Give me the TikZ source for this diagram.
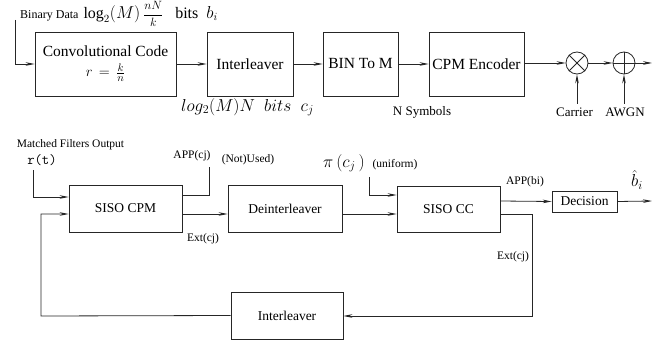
\documentclass[tikz,border=0pt]{standalone}
\usepackage{fontspec}
\setmainfont{Liberation Serif}
\newfontfamily\labelserif{Liberation Serif}
\usetikzlibrary{arrows.meta}
\begin{document}
\begin{tikzpicture}[x=1pt,y=-1pt,
  wire/.style={line width=0.8pt,draw=black!85},
  arr/.style={wire,-{Stealth[length=9pt,width=3.6pt]}},
  blk/.style={draw=black!85,line width=0.8pt,inner sep=0pt,align=center},
  topblk/.style={blk,minimum height=64pt,font=\labelserif\fontsize{15.5}{18}\selectfont},
  lowblk/.style={blk,minimum height=47pt,font=\labelserif\fontsize{13.5}{16}\selectfont},
  sm/.style={inner sep=0pt,font=\labelserif\fontsize{11.5}{13}\selectfont},
  md/.style={inner sep=0pt,font=\labelserif\fontsize{13}{15}\selectfont},
  mth/.style={inner sep=0pt,font=\fontsize{17}{20}\selectfont},
  mx/.style={draw=black!85,line width=0.8pt,circle,minimum size=22pt,inner sep=0pt}]
\useasboundingbox (0,0) rectangle (662,342);

% ---------------- transmitter chain ----------------
\node[topblk,minimum width=141pt] (conv) at (105.5,64)
  {Convolutional Code\\[2pt] {\fontsize{15}{18}\selectfont$r\,=\,\frac{k}{n}$}};
\node[topblk,minimum width=86pt] (il1) at (250,64) {Interleaver};
\node[topblk,minimum width=75pt] (bin) at (360.5,64) {BIN To M};
\node[topblk,minimum width=95pt] (enc) at (476.5,64) {CPM Encoder};
\node[mx] (mult) at (577,63) {};
\node[mx] (add) at (624,63) {};
\draw[wire] (mult.45) -- (mult.225) (mult.135) -- (mult.315);
\draw[wire] (add.north) -- (add.south) (add.west) -- (add.east);

\coordinate (src) at (15,20);
\coordinate (txout) at (652,63);
\coordinate (carrier) at (577,104);
\coordinate (noise) at (624,104);

\draw[arr] (src) -- (15,64) -- (conv.west);
\draw[arr] (conv.east) -- (il1.west);
\draw[arr] (il1.east) -- (bin.west);
\draw[arr] (bin.east) -- (enc.west);
\draw[arr] (enc.east |- mult) -- (mult.west);
\draw[arr] (mult.east) -- (add.west);
\draw[arr] (add.east) -- (txout);
\draw[arr] (carrier) -- (mult.south);
\draw[arr] (noise) -- (add.south);

\node[sm,anchor=west] (bdata) at (20,14)
  {\fontsize{12}{14}\selectfont Binary Data\,
   {\fontsize{16}{20}\selectfont$\log_{2}(M)\,$}%
   {\fontsize{13}{15}\selectfont$\displaystyle\frac{nN}{k}$}%
   {\fontsize{16}{20}\selectfont$\ \ \ \mathrm{bits}\ \ b_i$}};
\node[inner sep=0pt,font=\fontsize{18}{21}\selectfont] (cbits) at (247.5,107)
  {$log_{2}(M)N\;\ bits\;\ c_j$};
\node[md] (nsym) at (422,112) {N Symbols};
\node[md] (carlab) at (574.5,112) {Carrier};
\node[md] (awgn) at (625,112) {AWGN};

% ---------------- iterative receiver ----------------
\node[lowblk,minimum width=113pt] (scpm) at (125.5,208.5) {SISO CPM};
\node[lowblk,minimum width=114pt] (deint) at (285,208.5) {Deinterleaver};
\node[lowblk,minimum width=103pt,minimum height=46pt] (scc) at (448.5,209) {SISO CC};
\node[blk,minimum width=65pt,minimum height=21pt,font=\labelserif\fontsize{13.5}{16}\selectfont] (dec) at (584.5,201.5) {Decision};
\node[lowblk,minimum width=112pt] (il2) at (287,315.5) {Interleaver};

\coordinate (rin) at (33,170);
\coordinate (appcj) at (209,167);
\coordinate (prior) at (369,177);
\coordinate (rxout) at (652,201);

\draw[arr] (rin) -- (33,197) -- (scpm.west |- 0,197);
\draw[arr] (il2.west) -- (41,316) -- (41,214) -- (scpm.west |- 0,214);
\draw[wire] (scpm.east |- 0,195) -- (209,195) -- (appcj);
\draw[arr] (scpm.east |- 0,214) -- (deint.west |- 0,214);
\draw[arr] (deint.east |- 0,214) -- (scc.west |- 0,214);
\draw[arr] (prior) -- (369,195) -- (scc.west |- 0,195);
\draw[arr] (scc.east |- 0,201) -- (dec.west);
\draw[arr] (dec.east) -- (rxout);
\draw[arr] (scc.east |- 0,214) -- (532,214) -- (532,316) -- (il2.east |- 0,316);

\node[sm] (mfo) at (70.5,145) {Matched Filters Output};
\node[inner sep=0pt,font=\fontsize{14.3}{16}\selectfont\ttfamily] (rt) at (42,160) {r(t)};
\node[sm] (applab) at (192,156) {APP(cj)};
\node[sm] (notused) at (248,160) {(Not)Used)};
\node[mth] (pilab) at (344,163) {$\pi\,(c_j\,)$};
\node[sm] (unif) at (395,165) {(uniform)};
\node[sm] (ext1) at (203,239) {Ext(cj)};
\node[sm] (ext2) at (513,257) {Ext(cj)};
\node[sm] (appbi) at (525,182) {APP(bi)};
\node[mth] (bhat) at (637,180) {$\hat{b}_i$};
\end{tikzpicture}
\end{document}
